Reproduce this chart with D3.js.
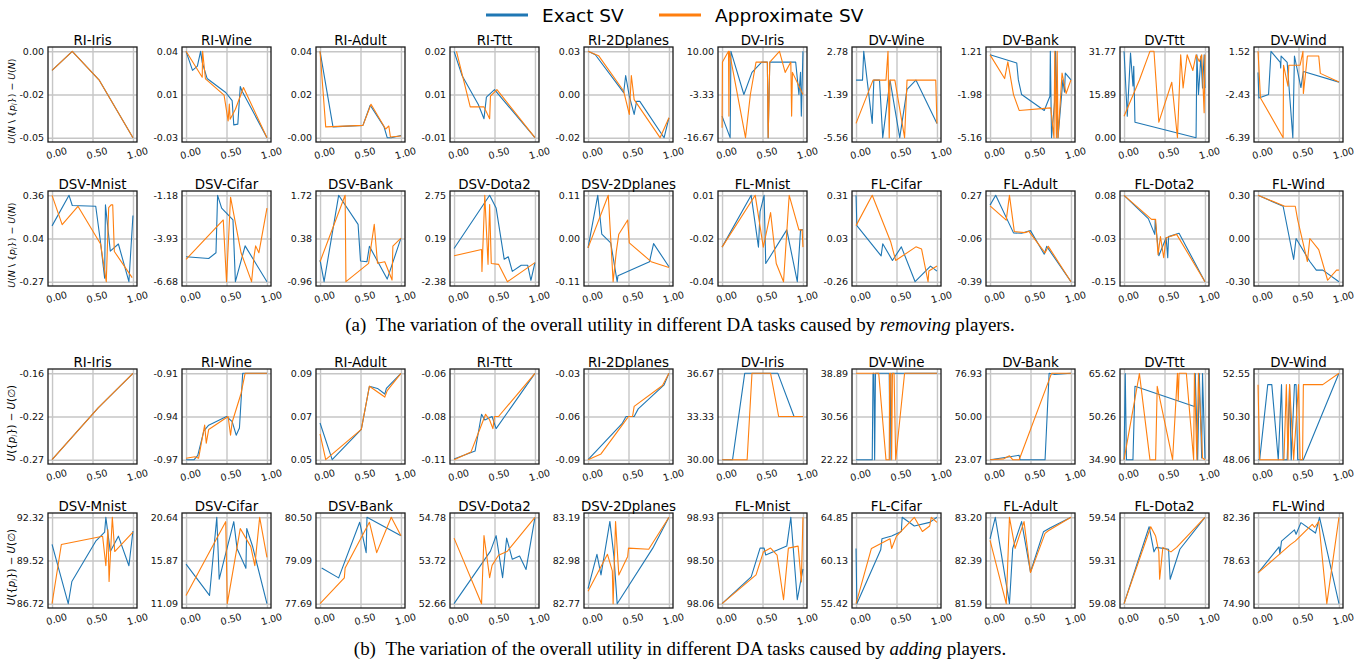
<!DOCTYPE html>
<html>
<head>
<meta charset="utf-8">
<script src="https://cdn.jsdelivr.net/npm/d3@7"></script>
<style>
body { margin: 0; background: #fff; }
svg text { font-family: "DejaVu Sans", sans-serif; }
</style>
</head>
<body>
<svg id="chart" width="1364" height="663"></svg>
<script>
// task names, same order for the removing and the adding figure
const taskNames = ["RI-Iris", "RI-Wine", "RI-Adult", "RI-Ttt", "RI-2Dplanes",
    "DV-Iris", "DV-Wine", "DV-Bank", "DV-Ttt", "DV-Wind",
    "DSV-Mnist", "DSV-Cifar", "DSV-Bank", "DSV-Dota2", "DSV-2Dplanes",
    "FL-Mnist", "FL-Cifar", "FL-Adult", "FL-Dota2", "FL-Wind"];
const seriesNames = ["Exact SV", "Approximate SV"];
const xTicks = [0, 0.5, 1];
const xTickLabels = ["0.00", "0.50", "1.00"];

// y tick labels: bottom, middle, top
const removeYTicks = [
    ["-0.05", "-0.02", "0.00"], ["-0.03", "0.01", "0.04"], ["-0.00", "0.02", "0.04"], ["-0.01", "0.01", "0.02"], ["-0.02", "0.00", "0.03"],
    ["-16.67", "-3.33", "10.00"], ["-5.56", "-1.39", "2.78"], ["-5.16", "-1.98", "1.21"], ["0.00", "15.89", "31.77"], ["-6.39", "-2.43", "1.52"],
    ["-0.27", "0.04", "0.36"], ["-6.68", "-3.93", "-1.18"], ["-0.96", "0.38", "1.72"], ["-2.38", "0.19", "2.75"], ["-0.11", "0.00", "0.11"],
    ["-0.04", "-0.02", "0.01"], ["-0.26", "0.03", "0.31"], ["-0.39", "-0.06", "0.27"], ["-0.15", "-0.03", "0.08"], ["-0.30", "0.00", "0.30"]
];
const addYTicks = [
    ["-0.27", "-0.22", "-0.16"], ["-0.97", "-0.94", "-0.91"], ["0.05", "0.07", "0.09"], ["-0.11", "-0.08", "-0.06"], ["-0.09", "-0.06", "-0.03"],
    ["30.00", "33.33", "36.67"], ["22.22", "30.56", "38.89"], ["23.07", "50.00", "76.93"], ["34.90", "50.26", "65.62"], ["48.06", "50.30", "52.55"],
    ["86.72", "89.52", "92.32"], ["11.09", "15.87", "20.64"], ["77.69", "79.09", "80.50"], ["52.66", "53.72", "54.78"], ["82.77", "82.98", "83.19"],
    ["98.06", "98.50", "98.93"], ["55.42", "60.13", "64.85"], ["81.59", "82.39", "83.20"], ["59.08", "59.31", "59.54"], ["74.90", "78.63", "82.36"]
];

// (normalised player position, utility change)
const removeExact = [
    [[0,-0.011],[0.25,0],[0.58,-0.0165],[1,-0.05]],
    [[0,0.04],[0.08,0.0246],[0.14,0.028],[0.18,0.04],[0.2,0.031],[0.26,0.018],[0.49,0.0066],[0.57,0.0],[0.59,-0.0196],[0.64,-0.019],[0.67,0.0115],[0.69,0.008],[1,-0.03]],
    [[0,0.04],[0.16,0.005],[0.53,0.0057],[0.62,0.015],[0.79,0.0051],[0.83,0.0],[0.88,0.0],[1,0.001]],
    [[0,0.02],[0.1,0.0115],[0.3,0.0015],[0.37,-0.0034],[0.4,0.0041],[0.5,0.0067],[1,-0.01]],
    [[0,0.03],[0.09,0.028],[0.41,0.008],[0.44,0.006],[0.465,0.016],[0.51,0.004],[0.57,-0.0065],[0.6,0.001],[0.64,0.001],[0.94,-0.02],[1,-0.0085]],
    [[0,-10],[0.1,-16.67],[0.11,10],[0.27,-3.33],[0.37,3.5],[0.49,6.67],[0.56,6.67],[0.57,-16.67],[0.59,6.67],[0.91,6.67],[0.95,-3.33],[0.97,3.5],[0.98,-10],[1,10]],
    [[0,0],[0.08,0],[0.095,2.78],[0.2,-4.18],[0.22,0],[0.29,0],[0.33,-5.56],[0.42,0],[0.54,-5.56],[0.63,-0.9],[0.74,0],[1,-4.18]],
    [[0,0.95],[0.33,0.35],[0.35,-0.9],[0.39,-1.98],[0.67,-3.15],[0.74,-2.1],[0.745,1.21],[0.76,-5.16],[0.8,-2.36],[0.81,1.21],[0.84,-5.16],[0.9,-0.9],[0.92,-1.8],[0.93,-0.4],[1,-0.9]],
    [[0,31.77],[0.04,7.9],[0.08,31.1],[0.11,19],[0.12,26.3],[0.135,5.7],[0.89,0],[0.9,30.5],[0.92,15.9],[0.95,30],[0.97,18.3],[0.99,30.5],[1,18.3]],
    [[0,-0.41],[0.01,-2.75],[0.13,-2.43],[0.16,1.52],[0.275,0.5],[0.28,0.0],[0.285,1.09],[0.36,0.5],[0.43,-6.39],[0.45,1.09],[0.53,-1.8],[0.56,-0.33],[1,-1.3]],
    [[0,0.137],[0.21,0.36],[0.25,0.286],[0.54,0.28],[0.6,0.014],[0.65,-0.245],[0.66,0.29],[0.72,-0.047],[0.82,0.005],[0.95,-0.27],[1,0.213]],
    [[0,-5.09],[0.28,-5.2],[0.37,-4.84],[0.39,-1.18],[0.44,-2.0],[0.58,-2.75],[0.61,-6.68],[0.73,-4.4],[1,-6.68]],
    [[0,-0.29],[0.05,-0.96],[0.23,1.72],[0.47,0.82],[0.5,-0.32],[0.58,-0.34],[0.61,0.14],[0.83,-0.88],[1,0.39]],
    [[0,-0.41],[0.44,2.75],[0.52,2.0],[0.62,-1.05],[0.67,-0.9],[0.72,-1.77],[0.83,-1.4],[0.91,-1.4],[0.95,-2.3],[1,-1.25]],
    [[0,-0.024],[0.12,0.11],[0.17,0.011],[0.28,-0.011],[0.36,-0.11],[0.37,-0.095],[0.76,-0.059],[0.81,-0.013],[1,-0.072]],
    [[0,-0.02],[0.36,0.01],[0.45,-0.02],[0.47,0.0005],[0.52,0.01],[0.54,-0.0295],[0.8,-0.01],[0.93,-0.04],[0.97,-0.01],[1,-0.01]],
    [[0,0.31],[0.01,0.11],[0.31,-0.09],[0.33,-0.01],[0.45,-0.12],[0.56,-0.03],[0.73,-0.26],[0.92,-0.157],[1,-0.19]],
    [[0,0.195],[0.07,0.27],[0.29,-0.017],[0.39,-0.02],[0.5,0.0],[0.67,-0.18],[0.7,-0.12],[1,-0.39]],
    [[0,0.08],[0.3,0.018],[0.38,-0.024],[0.385,0.015],[0.43,-0.081],[0.52,-0.033],[0.54,-0.086],[0.55,-0.03],[0.68,-0.021],[1,-0.15]],
    [[0,0.3],[0.31,0.224],[0.44,-0.146],[0.47,0.0],[0.64,-0.16],[0.72,-0.22],[0.8,-0.22],[1,-0.3]]
];
const removeApprox = [
    [[0,-0.011],[0.25,0],[0.58,-0.0165],[1,-0.05]],
    [[0,0.04],[0.2,0.019],[0.205,0.04],[0.24,0.0176],[0.47,0.0045],[0.52,-0.0164],[0.535,-0.0028],[0.545,-0.015],[0.61,-0.007],[0.71,0.0107],[1,-0.03]],
    [[0,0.04],[0.07,0.005],[0.53,0.0057],[0.63,0.0155],[0.81,0.004],[0.85,0.0054],[0.87,0.0003],[1,0.0008]],
    [[0.03,0.02],[0.2,0.0007],[0.37,0.0007],[0.44,-0.0034],[0.45,0.0044],[0.53,0.0067],[1,-0.01]],
    [[0,0.03],[0.13,0.0275],[0.44,0.007],[0.51,-0.0065],[0.535,0.016],[0.57,0.002],[0.89,-0.02],[1,-0.0085]],
    [[0,-13.6],[0.005,6.67],[0.08,10],[0.085,-10],[0.09,10],[0.29,-16.67],[0.35,-3.33],[0.42,6.67],[0.56,6.67],[0.57,-16.67],[0.59,6.67],[0.71,10],[0.78,3.5],[0.85,6.67],[0.86,-10],[0.87,3.5],[1,-3.33]],
    [[0,-4.18],[0.21,0],[0.37,0],[0.395,2.78],[0.41,-5.56],[0.42,0],[0.48,0],[0.6,-5.56],[0.63,0],[0.985,0],[1,-4.18]],
    [[0,0.95],[0.18,-0.8],[0.22,0.43],[0.29,-1.98],[0.36,-3.15],[0.75,-2.96],[0.79,-5.16],[0.8,1.21],[0.82,-5.16],[0.83,1.21],[0.84,-5.16],[0.89,-0.4],[0.94,-1.9],[1,-0.9]],
    [[0,7.9],[0.19,21.2],[0.32,31.77],[0.37,31.77],[0.43,5.7],[0.59,20.4],[0.66,0],[0.7,30.5],[0.73,18.3],[0.78,30.5],[0.85,24.7],[0.89,30.5],[0.93,28],[0.96,30.5],[0.99,9.2],[1,30.5]],
    [[0,1.52],[0.03,-2.75],[0.31,-6.39],[0.315,0.25],[0.37,-1.68],[0.38,0.25],[0.52,0.25],[0.555,1.52],[0.56,-2.35],[0.61,1.09],[0.75,1.09],[0.77,-0.5],[1,-1.3]],
    [[0,0.36],[0.125,0.146],[0.32,0.28],[0.6,0.005],[0.67,-0.27],[0.7,0.27],[0.73,0.29],[0.75,0.29],[0.77,-0.05],[0.99,-0.24]],
    [[0,-5.26],[0.46,-2.75],[0.5,-6.68],[0.55,-1.3],[0.68,-4.84],[0.81,-6.68],[0.84,-5.09],[0.86,-4.4],[0.9,-4.84],[1,-2.0]],
    [[0,-0.34],[0.31,1.72],[0.32,-0.96],[0.6,-0.39],[0.67,0.82],[0.71,-0.39],[0.8,-0.34],[0.89,-0.91],[0.9,0.14],[1,0.39]],
    [[0,-0.84],[0.34,-0.47],[0.345,-1.77],[0.38,2.75],[0.42,-1.35],[0.44,2.2],[0.46,-1.3],[0.55,-1.35],[0.66,-2.38],[1,-1.25]],
    [[0,-0.024],[0.25,0.11],[0.31,-0.11],[0.35,-0.032],[0.38,0.011],[0.49,0.047],[0.51,-0.011],[0.78,-0.059],[1,-0.074]],
    [[0,-0.02],[0.41,0.01],[0.51,-0.02],[0.6,0.0],[0.67,-0.0295],[0.76,-0.04],[0.83,0.01],[0.95,-0.01],[0.99,-0.01],[1,-0.02]],
    [[0,0.11],[0.2,0.31],[0.43,0.0],[0.49,-0.12],[0.74,-0.03],[0.81,-0.045],[0.89,-0.26],[0.9,-0.19],[1,-0.157]],
    [[0,0.19],[0.2,0.08],[0.24,0.27],[0.3,-0.007],[0.43,-0.015],[0.48,-0.005],[0.68,-0.17],[0.72,-0.12],[1,-0.39]],
    [[0,0.08],[0.34,0.016],[0.39,0.016],[0.42,-0.078],[0.45,-0.03],[0.49,-0.086],[0.52,-0.033],[0.65,-0.024],[1,-0.15]],
    [[0,0.3],[0.33,0.224],[0.46,0.224],[0.49,0.13],[0.61,-0.16],[0.64,0.0],[0.75,-0.077],[0.86,-0.29],[0.97,-0.22],[1,-0.22]]
];
const addExact = [
    [[0,-0.27],[0.57,-0.204],[1,-0.16]],
    [[0,-0.97],[0.1,-0.97],[0.145,-0.967],[0.22,-0.95],[0.28,-0.946],[0.5,-0.94],[0.57,-0.9435],[0.62,-0.953],[0.66,-0.948],[0.7,-0.91],[1,-0.91]],
    [[0,0.067],[0.15,0.05],[0.51,0.064],[0.61,0.084],[0.71,0.083],[0.8,0.0804],[0.82,0.083],[1,0.09]],
    [[0,-0.1096],[0.26,-0.105],[0.34,-0.0837],[0.38,-0.087],[0.47,-0.085],[0.52,-0.092],[1,-0.06]],
    [[0,-0.09],[0.1,-0.084],[0.42,-0.065],[0.47,-0.06],[0.57,-0.06],[0.62,-0.0547],[0.94,-0.038],[1,-0.03]],
    [[0,30],[0.13,30],[0.28,36.67],[0.69,36.67],[0.89,33.33],[1,33.33]],
    [[0,22.22],[0.2,22.22],[0.21,38.89],[0.22,38.89],[0.23,22.22],[0.24,38.89],[0.41,38.89],[0.42,22.22],[0.43,38.89],[1,38.89]],
    [[0,23.07],[0.36,25.8],[0.37,23.07],[0.68,23.07],[0.73,76.93],[0.79,76.3],[1,76.93]],
    [[0,34.9],[0.015,65.5],[0.03,34.9],[0.11,34.9],[0.135,61],[0.87,53.8],[0.88,65.5],[0.91,34.9],[0.93,65.5],[0.96,35.5],[0.97,65.5],[1,35.2]],
    [[0,48.06],[0.02,48.06],[0.12,51.96],[0.17,51.96],[0.25,48.06],[0.29,51.96],[0.31,48.06],[0.36,48.06],[0.39,51.96],[0.41,48.06],[0.45,51.96],[0.47,51.96],[0.49,48.06],[0.56,48.06],[1,52.55]],
    [[0,90.56],[0.2,86.72],[0.245,88.16],[0.54,90.77],[0.65,91.36],[0.665,92.32],[0.72,90.1],[0.82,91.1],[0.95,89.18],[1,91.43]],
    [[0,15.46],[0.29,12.0],[0.38,20.64],[0.41,13.8],[0.59,20.16],[0.63,17.2],[0.74,15.0],[0.75,19.4],[0.82,17.5],[1,11.09]],
    [[0.02,78.85],[0.23,78.53],[0.49,80.34],[0.57,79.35],[0.58,80.5],[1,79.9]],
    [[0,52.66],[0.45,53.95],[0.52,54.33],[0.6,53.3],[0.65,54.27],[0.72,53.75],[0.81,53.83],[0.89,53.5],[1,54.78]],
    [[0,82.843],[0.11,83.01],[0.16,82.91],[0.27,83.17],[0.32,83.0],[0.36,82.77],[0.8,83.04],[1,83.19]],
    [[0,98.06],[0.36,98.33],[0.47,98.62],[0.52,98.62],[0.54,98.55],[0.8,98.64],[0.85,98.93],[0.93,98.1],[1,98.41]],
    [[0,61.45],[0.01,55.42],[0.305,61.3],[0.32,62.5],[0.44,62.8],[0.56,63.3],[0.57,64.85],[0.72,63.9],[0.91,64.3],[1,64.85]],
    [[0,82.8],[0.065,83.2],[0.24,81.59],[0.28,82.62],[0.39,83.12],[0.5,82.18],[0.66,82.93],[0.74,83.0],[1,83.2]],
    [[0,59.08],[0.31,59.49],[0.37,59.356],[0.4,59.38],[0.55,59.37],[0.57,59.21],[0.69,59.37],[1,59.54]],
    [[0,77.56],[0.26,79.8],[0.27,79.2],[0.29,80.3],[0.45,81.27],[0.47,80.9],[0.53,81.9],[0.71,81.0],[0.76,82.36],[1,74.9]]
];
const addApprox = [
    [[0,-0.27],[0.57,-0.204],[1,-0.16]],
    [[0,-0.969],[0.11,-0.968],[0.155,-0.969],[0.23,-0.946],[0.25,-0.9585],[0.28,-0.949],[0.52,-0.94],[0.55,-0.953],[0.57,-0.944],[0.68,-0.924],[0.73,-0.91],[1,-0.91]],
    [[0,0.062],[0.07,0.05],[0.51,0.064],[0.61,0.084],[0.8,0.079],[0.83,0.082],[1,0.09]],
    [[0,-0.11],[0.21,-0.1055],[0.39,-0.0837],[0.44,-0.087],[0.48,-0.092],[0.5,-0.085],[0.55,-0.085],[1,-0.06]],
    [[0,-0.09],[0.16,-0.086],[0.44,-0.0646],[0.5,-0.06],[0.55,-0.06],[0.57,-0.053],[0.92,-0.0385],[1,-0.03]],
    [[0,30],[0.31,30],[0.37,36.67],[0.6,36.67],[0.7,33.33],[1,33.33]],
    [[0,38.89],[0.28,38.89],[0.37,22.22],[0.41,22.22],[0.415,38.89],[0.43,38.89],[0.44,22.22],[0.45,38.89],[0.47,38.89],[0.49,22.22],[0.6,38.89],[1,38.89]],
    [[0,23.07],[0.17,23.6],[0.24,25.5],[0.28,23.07],[0.36,23.07],[0.76,76.93],[1,76.93]],
    [[0,34.9],[0.19,65.5],[0.32,34.9],[0.39,34.9],[0.41,61],[0.6,34.9],[0.66,65.62],[0.67,56],[0.68,65.62],[0.77,65.62],[0.86,34.9],[0.87,65.62],[0.9,34.9],[0.92,65.62],[0.97,35.5],[1,34.9]],
    [[0,51.96],[0.02,48.06],[0.32,48.06],[0.35,51.96],[0.37,48.06],[0.39,51.96],[0.44,48.06],[0.5,51.96],[0.52,48.06],[0.55,48.06],[0.56,51.96],[0.8,51.96],[1,52.55]],
    [[0,86.72],[0.115,90.56],[0.625,91.09],[0.665,89.18],[0.69,91.52],[0.705,88.16],[0.745,92.32],[0.775,90.1],[1,91.36]],
    [[0,12.0],[0.49,20.16],[0.51,11.09],[0.67,19.4],[0.8,17.4],[0.85,15.3],[0.91,20.64],[1,16.2]],
    [[0,77.69],[0.3,78.53],[0.31,78.85],[0.61,80.34],[0.7,79.35],[0.88,80.5],[1,79.9]],
    [[0,54.27],[0.34,52.66],[0.37,54.33],[0.44,53.3],[0.47,53.6],[0.55,53.85],[0.66,53.95],[1,54.78]],
    [[0,82.83],[0.24,83.01],[0.3,82.93],[0.31,82.77],[0.34,83.17],[0.38,82.91],[0.49,83.0],[0.5,83.04],[0.75,83.035],[1,83.19]],
    [[0,98.06],[0.42,98.35],[0.51,98.58],[0.6,98.62],[0.68,98.55],[0.76,98.1],[0.82,98.62],[0.94,98.64],[0.98,98.28],[1,98.93]],
    [[0,55.42],[0.19,61.45],[0.42,62.5],[0.44,61.45],[0.5,62.8],[0.72,64.85],[0.82,63.3],[0.91,63.9],[0.93,64.85],[1,64.3]],
    [[0,82.77],[0.2,81.59],[0.24,83.2],[0.31,82.62],[0.42,83.12],[0.5,82.17],[0.68,82.9],[0.72,82.95],[1,83.2]],
    [[0,59.08],[0.33,59.49],[0.39,59.44],[0.43,59.356],[0.44,59.21],[0.48,59.38],[0.58,59.356],[0.65,59.38],[1,59.54]],
    [[0,77.56],[0.27,79.2],[0.4,80.0],[0.46,80.3],[0.67,81.75],[0.7,81.5],[0.75,82.0],[0.85,74.9],[1,82.36]]
];

const colors = ["#1f77b4", "#ff7f0e"];

// layout
const panelW = 89;
const panelH = 95;
const colStep = 134;
const left0 = 48;
const rowTops = [47, 191, 369, 513];

const svg = d3.select("#chart");

function drawPanel(px, py, title, tickText, exact, approx) {
    const g = svg.append("g").attr("transform", `translate(${px},${py})`);
    const x = d3.scaleLinear().domain([-0.05, 1.05]).range([0, panelW]);
    const ext = d3.extent(exact.concat(approx), d => d[1]);
    const pad = (ext[1] - ext[0]) * 0.05;
    const y = d3.scaleLinear().domain([ext[0] - pad, ext[1] + pad]).range([panelH, 0]);
    const yVals = [ext[0], (ext[0] + ext[1]) / 2, ext[1]];

    // y axis with grid lines
    const ya = g.append("g")
        .call(d3.axisLeft(y).tickValues(yVals).tickFormat((d, i) => tickText[i])
            .tickSizeInner(-panelW).tickSizeOuter(0).tickPadding(4));
    ya.select(".domain").remove();
    ya.selectAll("line").attr("stroke", "#c6c6c6").attr("stroke-width", 1.4);
    ya.selectAll("text").attr("font-size", 9.5).attr("fill", "#111")
        .style("font-family", "DejaVu Sans");

    // x axis with grid lines, labels tilted
    const xa = g.append("g").attr("transform", `translate(0,${panelH})`)
        .call(d3.axisBottom(x).tickValues(xTicks).tickFormat((d, i) => xTickLabels[i])
            .tickSizeInner(-panelH).tickSizeOuter(0));
    xa.select(".domain").remove();
    xa.selectAll("line").attr("stroke", "#c6c6c6").attr("stroke-width", 1.4);
    xa.selectAll("text")
        .attr("y", 0).attr("dy", null)
        .attr("transform", "translate(4,11) rotate(-15)")
        .attr("dominant-baseline", "central")
        .attr("font-size", 9.6).attr("fill", "#111")
        .style("font-family", "DejaVu Sans");

    const line = d3.line().x(d => x(d[0])).y(d => y(d[1]));
    [exact, approx].forEach((s, k) => {
        g.append("path")
            .attr("d", line(s))
            .attr("fill", "none")
            .attr("stroke", colors[k])
            .attr("stroke-width", 1.1)
            .attr("stroke-linejoin", "round");
    });

    g.append("rect")
        .attr("width", panelW).attr("height", panelH)
        .attr("fill", "none").attr("stroke", "#1a1a1a").attr("stroke-width", 1.3);

    g.append("text")
        .attr("x", panelW / 2).attr("y", -2.5)
        .attr("text-anchor", "middle")
        .attr("font-size", 13.4)
        .text(title);
}

function drawYLabel(cy, kind) {
    const t = svg.append("text")
        .attr("transform", `translate(15,${cy}) rotate(-90)`)
        .attr("text-anchor", "middle")
        .attr("font-size", kind === "remove" ? 9.4 : 10.2);
    const it = s => t.append("tspan").attr("font-style", "italic").text(s);
    const pl = s => t.append("tspan").text(s);
    it("U"); pl("(");
    if (kind === "remove") {
        it("N"); pl(" \\ {");
    } else {
        pl("{");
    }
    it("p");
    t.append("tspan").attr("font-style", "italic").attr("font-size", 7).attr("dy", 2).text("i");
    t.append("tspan").attr("dy", -2).text("})");
    pl(" \u2212 "); it("U"); pl("(");
    if (kind === "remove") it("N"); else pl("\u2205");
    pl(")");
}

const groups = [
    { ticks: removeYTicks, exact: removeExact, approx: removeApprox, rows: [0, 1], kind: "remove" },
    { ticks: addYTicks, exact: addExact, approx: addApprox, rows: [2, 3], kind: "add" }
];
groups.forEach(grp => {
    grp.rows.forEach((row, ri) => {
        for (let c = 0; c < 10; c++) {
            const i = ri * 10 + c;
            drawPanel(left0 + c * colStep, rowTops[row], taskNames[i], grp.ticks[i], grp.exact[i], grp.approx[i]);
        }
        drawYLabel(rowTops[row] + panelH * 0.57, grp.kind);
    });
});

// legend
const legendX = [486, 659];
seriesNames.forEach((name, k) => {
    svg.append("line")
        .attr("x1", legendX[k]).attr("x2", legendX[k] + 42)
        .attr("y1", 15).attr("y2", 15)
        .attr("stroke", colors[k]).attr("stroke-width", 3);
    svg.append("text")
        .attr("x", legendX[k] + 56).attr("y", 22)
        .attr("font-size", 18.5)
        .text(name);
});

// captions, sized so that (a) spans about 670 px
const captions = [
    { y: 331, tag: "(a)", pre: "The variation of the overall utility in different DA tasks caused by ", em: "removing", post: " players." },
    { y: 655, tag: "(b)", pre: "The variation of the overall utility in different DA tasks caused by ", em: "adding", post: " players." }
];
const capNodes = captions.map(cap => {
    const t = svg.append("text")
        .attr("x", 680).attr("y", cap.y)
        .attr("text-anchor", "middle")
        .style("font-family", "'Liberation Serif', serif")
        .attr("font-size", 16);
    t.append("tspan").text(cap.tag + "\u2002");
    t.append("tspan").text(cap.pre);
    t.append("tspan").attr("font-style", "italic").text(cap.em);
    t.append("tspan").text(cap.post);
    return t;
});
const capW = capNodes[0].node().getComputedTextLength();
const capSize = 16 * 670 / capW;
capNodes.forEach(t => t.attr("font-size", capSize));
</script>
</body>
</html>
